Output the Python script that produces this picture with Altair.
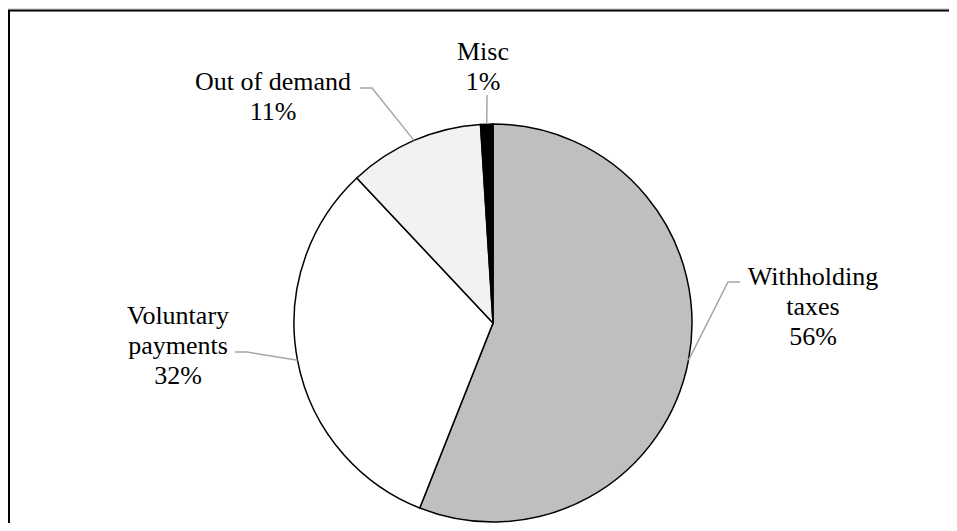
import altair as alt
import numpy as np
import pandas as pd

# ---------------- data ----------------
categories = ["Withholding taxes", "Voluntary payments", "Out of demand", "Misc"]
shares = [56, 32, 11, 1]
label_lines = [["Withholding", "taxes"], ["Voluntary", "payments"], ["Out of demand"], ["Misc"]]
slice_colors = ["#bfbfbf", "#ffffff", "#f2f2f2", "#000000"]

# ---------------- layout (plot coordinates) ----------------
W, H = 941, 515
CX, CY, R = 485, 315, 199
FONT = "Liberation Serif"
FS = 26
LH = 30
label_first_line = {
    "Withholding taxes": (805, 269),
    "Voluntary payments": (170, 308),
    "Out of demand": (265, 74),
    "Misc": (475, 44),
}
leader_tail = {
    "Withholding taxes": [(720, 274), (732, 274)],
    "Voluntary payments": [(239, 344), (227, 344)],
    "Out of demand": [(364, 80), (352, 80)],
    "Misc": [(479, 87)],
}

# ---------------- tables ----------------
pie_df = pd.DataFrame({"category": categories, "share": shares, "order": range(len(categories))})

total = float(sum(shares))
cum = np.cumsum(shares)
mid = (cum - np.array(shares) / 2.0) / total * 2 * np.pi

lead_rows = []
for i, cat in enumerate(categories):
    pts = [(CX + R * np.sin(mid[i]), CY - R * np.cos(mid[i]))] + leader_tail[cat]
    for j, (px, py) in enumerate(pts):
        lead_rows.append({"category": cat, "seq": j, "x": px, "y": py})
lead_df = pd.DataFrame(lead_rows)

text_df = pd.DataFrame({
    "category": categories,
    "text": [lines + [f"{s}%"] for lines, s in zip(label_lines, shares)],
    "x": [label_first_line[c][0] for c in categories],
    "y": [label_first_line[c][1] for c in categories],
})

# frame: top edge and left edge of the bordered box
frame_df = pd.DataFrame({"x": [W, 1, 1], "y": [2.5, 2.5, H], "seq": [0, 1, 2]})

# ---------------- layers ----------------
pie = alt.Chart(pie_df).mark_arc(radius=R, stroke="#000000", strokeWidth=1.5).encode(
    theta=alt.Theta("share:Q", stack=True),
    color=alt.Color("category:N", scale=alt.Scale(domain=categories, range=slice_colors), legend=None),
    order=alt.Order("order:Q"),
    x=alt.value(CX),
    y=alt.value(CY),
)

leaders = alt.Chart(lead_df).mark_line(color="#a6a6a6", strokeWidth=1.5).encode(
    x=alt.X("x:Q", scale=None, axis=None),
    y=alt.Y("y:Q", scale=None, axis=None),
    detail="category:N",
    order="seq:Q",
)

labels = alt.Chart(text_df).mark_text(
    font=FONT, fontSize=FS, lineHeight=LH, align="center", baseline="middle", color="#000000"
).encode(
    x=alt.X("x:Q", scale=None, axis=None),
    y=alt.Y("y:Q", scale=None, axis=None),
    text="text",
)

frame = alt.Chart(frame_df).mark_line(color="#000000", strokeWidth=2).encode(
    x=alt.X("x:Q", scale=None, axis=None),
    y=alt.Y("y:Q", scale=None, axis=None),
    order="seq:Q",
)

chart = alt.layer(pie, leaders, labels, frame).properties(
    width=W, height=H, padding=0, autosize=alt.AutoSizeParams(type="none")
).configure_view(stroke=None).configure(background="#ffffff")

chart.save("out.html", embed_options={"renderer": "svg", "actions": False})
